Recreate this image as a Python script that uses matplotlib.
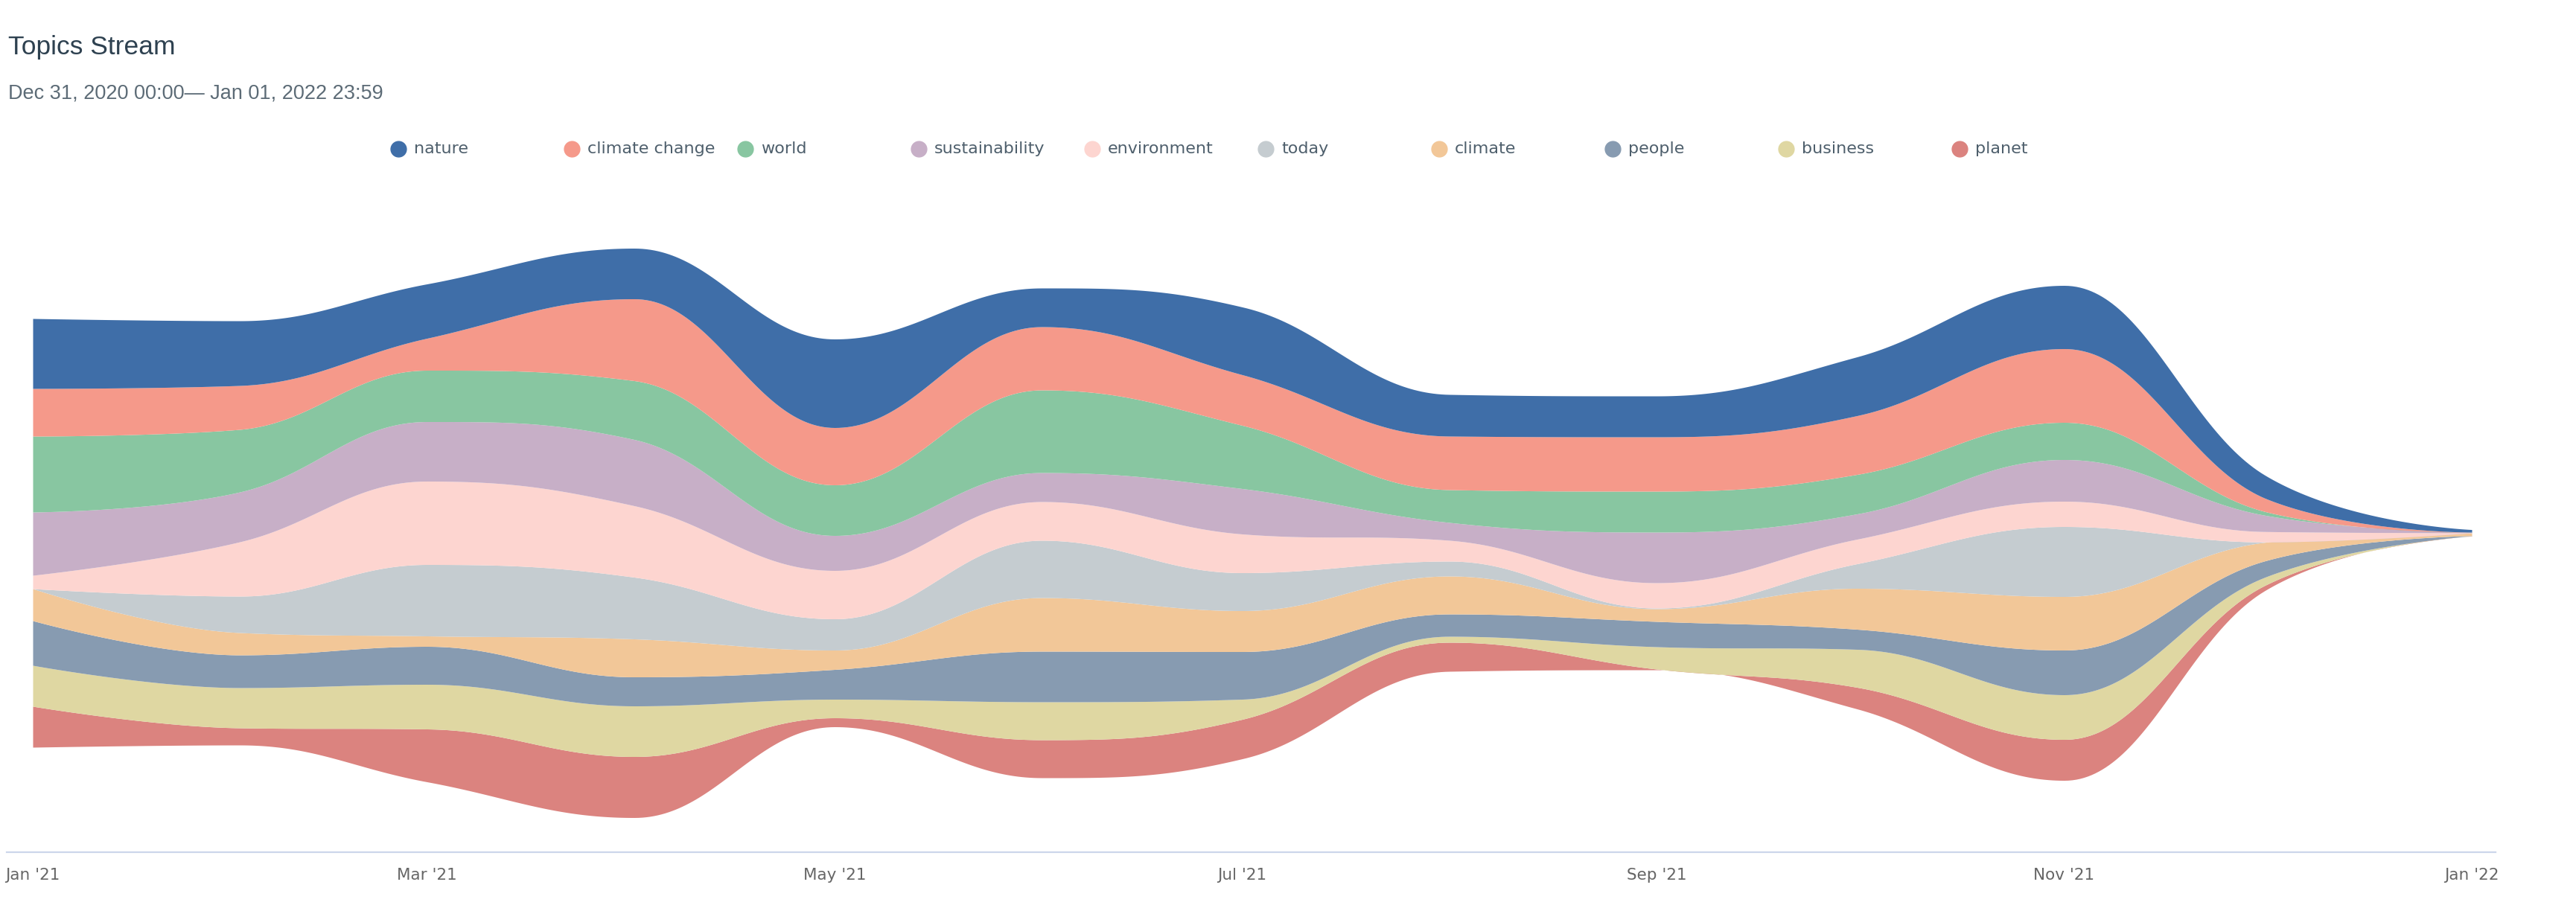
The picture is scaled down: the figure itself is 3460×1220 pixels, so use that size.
import numpy as np
import matplotlib
matplotlib.use("Agg")
import matplotlib.pyplot as plt
from matplotlib.lines import Line2D
from datetime import date

# ---------------- data ----------------
months = ["2021-01-01", "2021-02-01", "2021-03-01", "2021-04-01", "2021-05-01",
          "2021-06-01", "2021-07-01", "2021-08-01", "2021-09-01", "2021-10-01",
          "2021-11-01", "2021-12-01", "2022-01-01"]

topics = ["nature", "climate change", "world", "sustainability", "environment",
          "today", "climate", "people", "business", "planet"]

colors = ["#3F6EA8", "#F5998A", "#88C6A1", "#C7AFC7", "#FDD5D0",
          "#C5CCD0", "#F2C798", "#879BB1", "#DFD7A2", "#DB837F"]

nature         = [94, 87, 73, 68, 119, 52, 91, 56, 55, 79, 85, 31, 3.5]
climate_change = [64, 59, 43, 110, 77, 85, 68, 72, 73, 79, 99, 18, 0.3]
world          = [102, 84, 69, 79, 68, 111, 85, 44, 55, 53, 50, 5, 0.2]
sustainability = [85, 67, 80, 89, 47, 39, 61, 24, 68, 34, 56, 22, 0.3]
environment    = [18, 73, 112, 96, 65, 52, 52, 28, 34, 33, 34, 14, 0.2]
today          = [0, 49, 96, 83, 42, 77, 51, 20, 1, 33, 94, 0.5, 0.2]
climate        = [43, 30, 14, 51, 26, 72, 55, 51, 17, 55, 72, 25, 3.5]
people         = [60, 44, 51, 39, 40, 68, 64, 30, 34, 27, 60, 22, 0.2]
business       = [55, 54, 60, 68, 25, 51, 27, 8, 30, 51, 60, 11, 0.2]
planet         = [55, 23, 71, 82, 12, 51, 53, 39, 1, 29, 55, 7, 0.3]

series = [nature, climate_change, world, sustainability, environment,
          today, climate, people, business, planet]

tick_dates = ["2021-01-01", "2021-03-01", "2021-05-01", "2021-07-01",
              "2021-09-01", "2021-11-01", "2022-01-01"]
tick_labels = ["Jan '21", "Mar '21", "May '21", "Jul '21", "Sep '21", "Nov '21", "Jan '22"]

title = "Topics Stream"
subtitle = "Dec 31, 2020 00:00\u2014 Jan 01, 2022 23:59"

# ---------------- helpers ----------------
origin = date(2021, 1, 1)


def day(s):
    y, m, d = map(int, s.split("-"))
    return (date(y, m, d) - origin).days


def spline_controls(xs, ys, smoothing=1.5):
    """Control points of a Highcharts-style spline through (xs, ys)."""
    n = len(xs)
    lcx, lcy = xs.copy(), ys.copy()
    rcx, rcy = xs.copy(), ys.copy()
    denom = smoothing + 1
    for i in range(1, n - 1):
        px, py = xs[i], ys[i]
        lx, ly = xs[i - 1], ys[i - 1]
        nx, ny = xs[i + 1], ys[i + 1]
        lX = (smoothing * px + lx) / denom
        lY = (smoothing * py + ly) / denom
        rX = (smoothing * px + nx) / denom
        rY = (smoothing * py + ny) / denom
        corr = 0.0
        if rX != lX:
            corr = (rY - lY) * (rX - px) / (rX - lX) + py - rY
        lY += corr
        rY += corr
        if lY > ly and lY > py:
            lY = max(ly, py)
            rY = 2 * py - lY
        elif lY < ly and lY < py:
            lY = min(ly, py)
            rY = 2 * py - lY
        if rY > ny and rY > py:
            rY = max(ny, py)
            lY = 2 * py - rY
        elif rY < ny and rY < py:
            rY = min(ny, py)
            lY = 2 * py - rY
        lcx[i], lcy[i], rcx[i], rcy[i] = lX, lY, rX, rY
    return lcx, lcy, rcx, rcy


def spline_curve(xs, ys, steps=60):
    xs = np.asarray(xs, float)
    ys = np.asarray(ys, float)
    lcx, lcy, rcx, rcy = spline_controls(xs, ys)
    t = np.linspace(0, 1, steps)
    ox, oy = [], []
    for i in range(1, len(xs)):
        p0x, p0y = xs[i - 1], ys[i - 1]
        p1x, p1y = rcx[i - 1], rcy[i - 1]
        p2x, p2y = lcx[i], lcy[i]
        p3x, p3y = xs[i], ys[i]
        a, b, c, d = (1 - t) ** 3, 3 * (1 - t) ** 2 * t, 3 * (1 - t) * t ** 2, t ** 3
        tt = slice(0 if i == 1 else 1, None)
        ox.append((a * p0x + b * p1x + c * p2x + d * p3x)[tt])
        oy.append((a * p0y + b * p1y + c * p2y + d * p3y)[tt])
    return np.concatenate(ox), np.concatenate(oy)


# ---------------- stacking (stream, centred) ----------------
x = np.array([day(m) for m in months], float)
vals = np.array(series, float)             # (n_series, n_points), first = top
total = vals.sum(axis=0)
bounds = [-total / 2]
for k in range(len(series) - 1, -1, -1):
    bounds.append(bounds[-1] + vals[k])
curves = [spline_curve(x, b) for b in bounds]

# ---------------- figure ----------------
W, H = 3460, 1220
fig = plt.figure(figsize=(W / 100, H / 100), dpi=100)
fig.patch.set_facecolor("white")

ax_left, ax_right, ax_top, ax_bottom = 9, 3352, 300, 1145
ax = fig.add_axes([ax_left / W, 1 - ax_bottom / H,
                   (ax_right - ax_left) / W, (ax_bottom - ax_top) / H])

n = len(series)
for j in range(n):
    k = n - 1 - j
    xb, yb = curves[j]
    xt, yt = curves[j + 1]
    ax.fill_between(xb, yb, yt, color=colors[k], linewidth=0, zorder=2 + j)

px_per_day = (3320 - 44) / 365.0
ax.set_xlim(-(44 - ax_left) / px_per_day, 365 + (ax_right - 3320) / px_per_day)
ax.set_ylim(-(ax_bottom - 716), 716 - ax_top)

for s in ["top", "left", "right"]:
    ax.spines[s].set_visible(False)
ax.spines["bottom"].set_color("#ccd6eb")
ax.spines["bottom"].set_linewidth(1.6)
ax.set_yticks([])
ax.set_xticks([day(d) for d in tick_dates])
ax.set_xticklabels(tick_labels, fontsize=15.5, color="#666666", family="DejaVu Sans")
ax.tick_params(axis="x", length=0, pad=15)
ax.set_facecolor("white")

# title / subtitle
fig.text(11 / W, 1 - 73 / H, title, fontsize=25.5, color="#2E4150",
         family=["Liberation Sans", "DejaVu Sans"], va="baseline", ha="left")
fig.text(11 / W, 1 - 133 / H, subtitle, fontsize=19.5, color="#5C6B76",
         family=["Liberation Sans", "DejaVu Sans"], va="baseline", ha="left")

# legend
leg_x0, leg_dx, leg_y = 535, 233, 200
for i, (name, c) in enumerate(zip(topics, colors)):
    cx = leg_x0 + i * leg_dx
    fig.add_artist(Line2D([cx / W], [1 - leg_y / H], marker="o", markersize=15,
                          color=c, linestyle="none", transform=fig.transFigure))
    fig.text((cx + 21) / W, 1 - (leg_y + 6) / H, name, fontsize=16,
             color="#4E5F6C", family="DejaVu Sans", va="baseline", ha="left")

fig.savefig("out.png", dpi=100, facecolor="white")
